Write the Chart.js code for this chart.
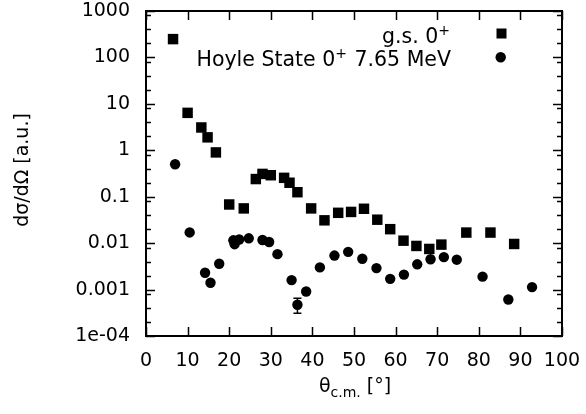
<!DOCTYPE html>
<html><head><meta charset="utf-8">
<script src="https://cdn.jsdelivr.net/npm/chart.js@4.4.0/dist/chart.umd.min.js"></script>
<style>html,body{margin:0;padding:0;background:#fff}#wrap{width:586px;height:414px}</style>
</head><body><div id="wrap"><canvas id="c" width="586" height="414"></canvas></div>
<script>
// ---- data ----
const gsAngles = [6.5, 10.0, 13.3, 14.8, 16.8, 20.0, 23.5, 26.4, 28.0, 30.0, 33.2, 34.5, 36.4, 39.7, 42.9, 46.2, 49.3, 52.4, 55.6, 58.7, 61.9, 65.0, 68.1, 71.0, 77.0, 82.8, 88.5];
const gsValues = [248, 6.4, 3.1, 1.9, 0.9, 0.068, 0.056, 0.24, 0.31, 0.29, 0.255, 0.20, 0.125, 0.056, 0.031, 0.045, 0.047, 0.055, 0.032, 0.020, 0.0113, 0.0087, 0.0075, 0.0093, 0.0169, 0.0169, 0.0096];
const hoyleAngles = [7.0, 10.5, 14.2, 15.5, 17.6, 21.0, 21.3, 22.4, 24.7, 28.0, 29.6, 31.6, 35.0, 36.4, 38.5, 41.8, 45.3, 48.6, 52.0, 55.4, 58.7, 62.0, 65.2, 68.4, 71.6, 74.7, 80.9, 87.1, 92.8];
const hoyleValues = [0.50, 0.017, 0.0023, 0.0014, 0.0036, 0.0115, 0.0095, 0.012, 0.0127, 0.0117, 0.0106, 0.0058, 0.0016, 0.00047, 0.00091, 0.0030, 0.0054, 0.0065, 0.0046, 0.0029, 0.0017, 0.0021, 0.0035, 0.0045, 0.0050, 0.0044, 0.0019, 0.00061, 0.00113];
const errAngles = [36.4];
const errLow = [0.00031];
const errHigh = [0.00065];
const xTickValues = [0, 10, 20, 30, 40, 50, 60, 70, 80, 90, 100];
const yTickValues = [1e-4, 1e-3, 1e-2, 1e-1, 1, 10, 100, 1000];
const yTickLabels = ['1e-04', '0.001', '0.01', '0.1', '1', '10', '100', '1000'];
const yMinorMultipliers = [2, 4, 8];
const legendLabels = ['g.s. 0', 'Hoyle State 0'];
const legendSuffix = ['', ' 7.65 MeV'];

const FONT = '"DejaVu Sans", sans-serif';
const FS = 19;
const LFS = 20.5;

const framePlugin = {
  id: 'frame',
  beforeDatasetsDraw(chart) {
    const ctx = chart.ctx, xs = chart.scales.x, ys = chart.scales.y;
    ctx.save();
    ctx.strokeStyle = '#000'; ctx.lineWidth = 1.5;
    for (let i = 0; i < errAngles.length; i++) {
      const px = xs.getPixelForValue(errAngles[i]);
      const y1 = ys.getPixelForValue(errLow[i]), y2 = ys.getPixelForValue(errHigh[i]);
      ctx.beginPath();
      ctx.moveTo(px, y1); ctx.lineTo(px, y2);
      ctx.moveTo(px - 4, y1); ctx.lineTo(px + 4, y1);
      ctx.moveTo(px - 4, y2); ctx.lineTo(px + 4, y2);
      ctx.stroke();
    }
    ctx.restore();
  },
  afterDraw(chart) {
    const ctx = chart.ctx, a = chart.chartArea, xs = chart.scales.x, ys = chart.scales.y;
    ctx.save();
    ctx.strokeStyle = '#000';
    ctx.lineWidth = 1.5;
    ctx.beginPath();
    xTickValues.forEach(v => {
      const px = Math.round(xs.getPixelForValue(v)) + 0.5;
      ctx.moveTo(px, a.bottom); ctx.lineTo(px, a.bottom - 9);
      ctx.moveTo(px, a.top); ctx.lineTo(px, a.top + 9);
    });
    yTickValues.forEach(v => {
      const py = Math.round(ys.getPixelForValue(v)) + 0.5;
      ctx.moveTo(a.left, py); ctx.lineTo(a.left + 9, py);
      ctx.moveTo(a.right, py); ctx.lineTo(a.right - 9, py);
      if (v < 1000) {
        yMinorMultipliers.forEach(m => {
          const pm = Math.round(ys.getPixelForValue(v * m)) + 0.5;
          ctx.moveTo(a.left, pm); ctx.lineTo(a.left + 5, pm);
          ctx.moveTo(a.right, pm); ctx.lineTo(a.right - 5, pm);
        });
      }
    });
    ctx.stroke();
    ctx.lineWidth = 2;
    ctx.strokeRect(a.left, a.top, a.right - a.left, a.bottom - a.top);

    // legend
    ctx.fillStyle = '#000';
    ctx.textBaseline = 'alphabetic';
    const rightX = 451;
    const baseY = [43, 66];
    for (let i = 0; i < 2; i++) {
      ctx.font = LFS + 'px ' + FONT;
      const w1 = ctx.measureText(legendLabels[i]).width;
      const w3 = ctx.measureText(legendSuffix[i]).width;
      ctx.font = '14px ' + FONT;
      const w2 = ctx.measureText('+').width + 1;
      let x = rightX - w1 - w2 - w3;
      ctx.font = LFS + 'px ' + FONT;
      ctx.textAlign = 'left';
      ctx.fillText(legendLabels[i], x, baseY[i]);
      ctx.font = '14px ' + FONT;
      ctx.fillText('+', x + w1, baseY[i] - 8);
      ctx.font = LFS + 'px ' + FONT;
      ctx.fillText(legendSuffix[i], x + w1 + w2, baseY[i]);
    }
    ctx.fillRect(496.5, 28.5, 10, 10);
    ctx.beginPath(); ctx.arc(500.7, 57.3, 5.2, 0, Math.PI * 2); ctx.fill();

    // x title
    ctx.font = FS + 'px ' + FONT;
    const t1 = '\u03B8', t2 = 'c.m.', t3 = ' [\u00B0]';
    const a1 = ctx.measureText(t1).width, a3 = ctx.measureText(t3).width;
    ctx.font = '14px ' + FONT;
    const a2 = ctx.measureText(t2).width;
    let xx = 355 - (a1 + a2 + a3) / 2;
    const by = 392;
    ctx.textAlign = 'left';
    ctx.font = FS + 'px ' + FONT; ctx.fillText(t1, xx, by);
    ctx.font = '14px ' + FONT; ctx.fillText(t2, xx + a1, by + 5);
    ctx.font = FS + 'px ' + FONT; ctx.fillText(t3, xx + a1 + a2, by);

    // y title
    ctx.translate(28, 170);
    ctx.rotate(-Math.PI / 2);
    ctx.textAlign = 'center';
    ctx.font = FS + 'px ' + FONT;
    ctx.fillText('d\u03C3/d\u03A9 [a.u.]', 0, 0);
    ctx.restore();
  }
};

new Chart(document.getElementById('c'), {
  type: 'scatter',
  data: {
    datasets: [
      { label: 'g.s. 0+', data: gsAngles.map((x, i) => ({ x, y: gsValues[i] })),
        pointStyle: 'rect', pointRadius: 7.4, pointHoverRadius: 7.4, backgroundColor: '#000', borderWidth: 0 },
      { label: 'Hoyle State 0+ 7.65 MeV', data: hoyleAngles.map((x, i) => ({ x, y: hoyleValues[i] })),
        pointStyle: 'circle', pointRadius: 5.2, pointHoverRadius: 5.2, backgroundColor: '#000', borderWidth: 0 }
    ]
  },
  options: {
    responsive: false, animation: false, devicePixelRatio: 1,
    layout: { padding: { top: 11, right: 24, left: 0, bottom: 0 } },
    plugins: { legend: { display: false }, tooltip: { enabled: false } },
    events: [],
    scales: {
      x: {
        type: 'linear', min: 0, max: 100,
        grid: { display: false, drawTicks: false }, border: { display: false },
        afterBuildTicks: s => { s.ticks = xTickValues.map(v => ({ value: v })); },
        ticks: { color: '#000', font: { family: FONT, size: FS }, padding: 14, maxRotation: 0, autoSkip: false },
        afterFit: s => { s.height = 78; s.paddingLeft = 0; s.paddingRight = 0; }
      },
      y: {
        type: 'logarithmic', min: 1e-4, max: 1000,
        grid: { display: false, drawTicks: false }, border: { display: false },
        afterBuildTicks: s => { s.ticks = yTickValues.map(v => ({ value: v })); },
        ticks: { color: '#000', font: { family: FONT, size: FS }, padding: 16, autoSkip: false,
          callback: (v) => { const i = yTickValues.findIndex(t => Math.abs(Math.log10(t) - Math.log10(v)) < 1e-6); return i >= 0 ? yTickLabels[i] : ''; } },
        afterFit: s => { s.width = 146; s.paddingTop = 0; s.paddingBottom = 0; }
      }
    }
  },
  plugins: [framePlugin]
});
</script></body></html>
